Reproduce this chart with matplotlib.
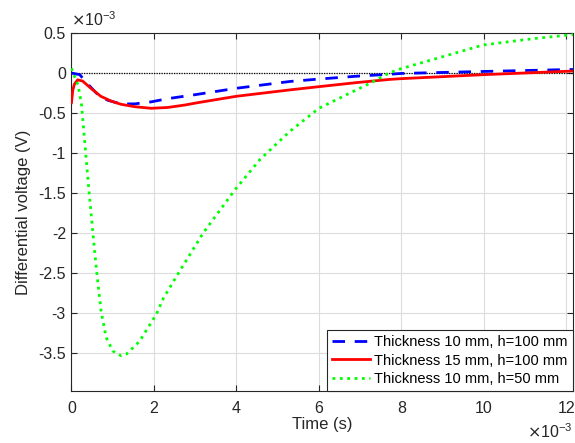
import matplotlib
matplotlib.use('Agg')
import matplotlib.pyplot as plt
import numpy as np

plt.rcParams['font.family'] = ['Liberation Sans', 'DejaVu Sans']
plt.rcParams['axes.unicode_minus'] = False

# values in units of 1e-3 (ms and mV)
t_blue = [0, 0.2, 0.4, 0.64, 0.88, 1.2, 1.53, 1.93, 2.33, 3.0, 4.0, 5.3, 6.0, 6.9, 7.7, 8.0, 10.0, 12.16]
v_blue = [0, -0.02, -0.14, -0.27, -0.34, -0.385, -0.385, -0.36, -0.32, -0.27, -0.19, -0.105, -0.075,
          -0.04, -0.015, -0.005, 0.02, 0.045]

t_red = [0, 0.03, 0.07, 0.15, 0.27, 0.47, 0.71, 0.96, 1.2, 1.53, 1.93, 2.33, 2.74, 3.06, 4.0, 5.3,
         6.0, 6.9, 7.7, 8.0, 10.0, 12.16]
v_red = [-0.37, -0.22, -0.14, -0.085, -0.10, -0.19, -0.29, -0.35, -0.39, -0.42, -0.44, -0.43, -0.40,
         -0.37, -0.29, -0.21, -0.17, -0.12, -0.08, -0.07, -0.02, 0.025]

t_green = [0, 0.08, 0.16, 0.24, 0.32, 0.40, 0.48, 0.56, 0.64, 0.72, 0.84, 1.0, 1.2, 1.33, 1.65, 2.06,
           2.23, 2.58, 3.19, 3.96, 4.57, 5.29, 6.0, 6.75, 7.25, 7.7, 7.96, 8.77, 9.98, 11.2, 12.16]
v_green = [0.06, -0.05, -0.15, -0.38, -0.85, -1.33, -1.78, -2.22, -2.62, -2.98, -3.3, -3.47, -3.53,
           -3.51, -3.35, -3.01, -2.81, -2.51, -2.0, -1.46, -1.08, -0.73, -0.44, -0.25, -0.125, 0.0,
           0.05, 0.17, 0.35, 0.43, 0.48]

labels = ['Thickness 10 mm, h=100 mm', 'Thickness 15 mm, h=100 mm', 'Thickness 10 mm, h=50 mm']
xticks = [0, 2, 4, 6, 8, 10, 12]
yticks = [0.5, 0, -0.5, -1, -1.5, -2, -2.5, -3, -3.5]

fig = plt.figure(figsize=(5.75, 4.43), dpi=100)
ax = fig.add_axes([0.1243, 0.1174, 0.8722, 0.8081])

ax.axhline(0, color='black', lw=0.9, ls=(0, (1, 1)), zorder=1)
ax.plot(t_blue, v_blue, color='blue', lw=2, dashes=(4.5, 3.5), label=labels[0], zorder=3)
ax.plot(t_red, v_red, color='red', lw=2, label=labels[1], zorder=3)
ax.plot(t_green, v_green, color='#00ff00', lw=2, ls=':', label=labels[2], zorder=3)

ax.set_xlim(0, 12.16)
ax.set_ylim(-3.97, 0.5)
ax.set_xticks(xticks)
ax.set_yticks(yticks)
ax.set_yticklabels(['0.5', '0', '-0.5', '-1', '-1.5', '-2', '-2.5', '-3', '-3.5'])
ax.grid(True, color='#dcdcdc', lw=0.8)
ax.set_axisbelow(True)
ax.tick_params(direction='in', top=True, right=True, labelsize=11.5, color='#262626',
               labelcolor='#262626', length=4)
ax.tick_params(axis='x', pad=7)
ax.tick_params(axis='y', pad=4)
for s in ax.spines.values():
    s.set_color('#262626')
    s.set_linewidth(0.8)

ax.set_xlabel('Time (s)', fontsize=12, color='#262626', labelpad=1)
ax.set_ylabel('Differential voltage (V)', fontsize=12, color='#262626', labelpad=5)

ax.text(0.0, 1.012, r'$\times$10$^{\mathregular{-3}}$', transform=ax.transAxes,
        fontsize=11.5, color='#262626', ha='left', va='bottom')
ax.text(1.0, -0.088, r'$\times$10$^{\mathregular{-3}}$', transform=ax.transAxes,
        fontsize=11.5, color='#262626', ha='right', va='top')

leg = ax.legend(loc='lower right', borderaxespad=0, fontsize=10.5, fancybox=False,
                framealpha=1, edgecolor='#262626', handlelength=2.6, handletextpad=0.3,
                labelspacing=0.3, borderpad=0.35)
leg.get_frame().set_linewidth(0.8)

fig.savefig('out.png', dpi=100)
